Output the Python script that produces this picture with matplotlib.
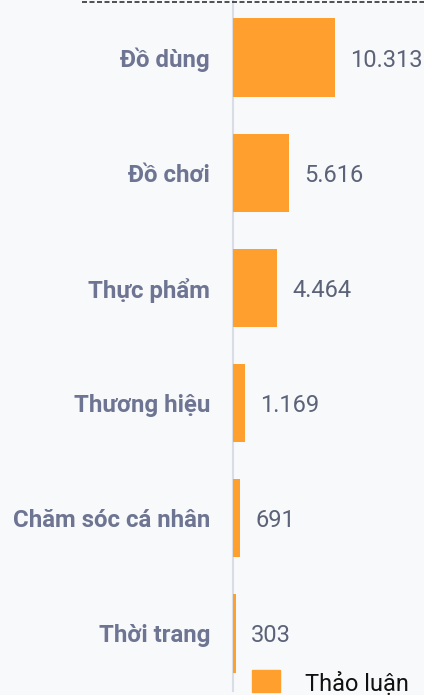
import numpy as np
import matplotlib.pyplot as plt
from matplotlib.lines import Line2D
from matplotlib.patches import Rectangle

plt.rcParams['font.family'] = ['Roboto', 'DejaVu Sans']

categories = ['Đồ dùng', 'Đồ chơi', 'Thực phẩm', 'Thương hiệu', 'Chăm sóc cá nhân', 'Thời trang']
values = [10313, 5616, 4464, 1169, 691, 303]
series_name = 'Thảo luận'

BAR_COLOR = '#ff9f2e'
LABEL_COLOR = '#6e7592'
VALUE_COLOR = '#5c6378'
BG = '#f8f9fb'


def fmt(v):
    return '{:,}'.format(v).replace(',', '.')


def main():
    fig = plt.figure(figsize=(4.24, 6.95), dpi=100, facecolor=BG)
    ax = fig.add_axes([233 / 424, 4 / 695, 191 / 424, 691 / 695])
    ax.set_facecolor(BG)
    ax.patch.set_alpha(0)

    y = np.arange(len(categories))
    ax.barh(y, values, height=0.68, color=BAR_COLOR, zorder=3)
    ax.set_ylim(len(categories) - 0.5, -0.5)
    ax.set_xlim(0, 10313 * 191 / 102)

    for yi, v in zip(y, values):
        ax.annotate(fmt(v), (v, yi), xytext=(11, 0), textcoords='offset points',
                    va='center_baseline', ha='left', fontsize=17, color=VALUE_COLOR,
                    annotation_clip=False)

    ax.set_yticks(y)
    ax.set_yticklabels(categories, fontsize=17.3, fontweight='bold', color=LABEL_COLOR,
                       va='center_baseline')
    ax.tick_params(axis='y', length=0, pad=16.5)
    ax.set_xticks([])
    for side in ['top', 'right', 'bottom']:
        ax.spines[side].set_visible(False)
    ax.spines['left'].set_color('#d9dde6')
    ax.spines['left'].set_linewidth(1.5)

    # dashed rule along the top edge
    fig.add_artist(Line2D([82 / 424, 1.0], [1 - 2 / 695, 1 - 2 / 695],
                          transform=fig.transFigure, color='#333333',
                          linestyle=(0, (3, 1.5)), linewidth=1.2))

    # legend
    fig.add_artist(Rectangle((252 / 424, 3 / 695), 28 / 424, 22 / 695,
                             transform=fig.transFigure, color=BAR_COLOR))
    fig.text(305 / 424, 4 / 695, series_name, fontsize=17, color='#111111',
             va='baseline', ha='left')

    fig.savefig('out.png', dpi=100, facecolor=BG)


if __name__ == '__main__':
    main()
